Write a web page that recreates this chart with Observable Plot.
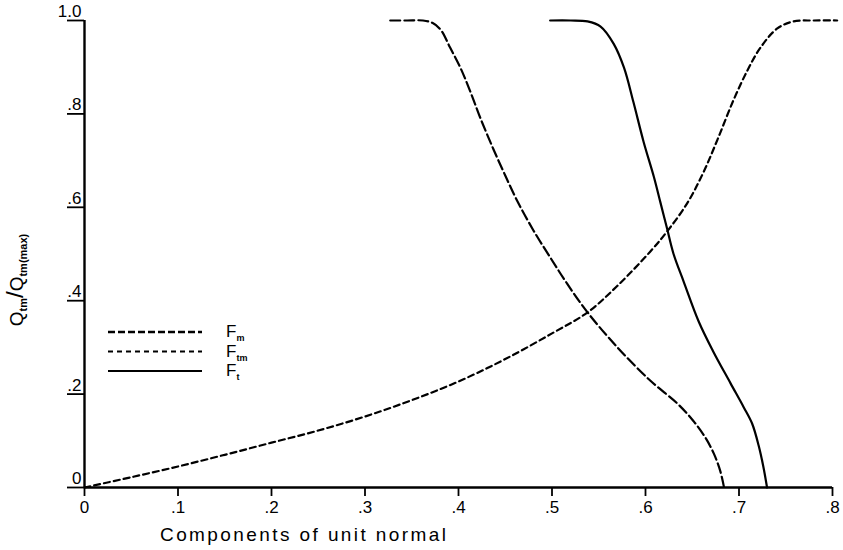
<!DOCTYPE html>
<html>
<head>
<meta charset="utf-8">
<script src="https://cdn.jsdelivr.net/npm/d3@7"></script>
<script src="https://cdn.jsdelivr.net/npm/@observablehq/plot@0.6"></script>
<style>
  html, body { margin: 0; padding: 0; background: #fff; }
  #chart { position: relative; width: 843px; height: 550px; }
</style>
</head>
<body>
<div id="chart"></div>
<script>
// ---- data ----
const xTicks = [0, 0.1, 0.2, 0.3, 0.4, 0.5, 0.6, 0.7, 0.8];
const xTickLabels = ["0", ".1", ".2", ".3", ".4", ".5", ".6", ".7", ".8"];
const yTicks = [0, 0.2, 0.4, 0.6, 0.8, 1.0];
const yTickLabels = ["0", ".2", ".4", ".6", ".8", "1.0"];

const seriesNames = ["Fm", "Ftm", "Ft"];

const fmX = [0.327, 0.345, 0.362, 0.372, 0.381, 0.391, 0.402, 0.413, 0.424, 0.437, 0.450, 0.463, 0.480, 0.498, 0.516, 0.538, 0.570, 0.605, 0.634, 0.651, 0.664, 0.673, 0.680, 0.684];
const fmY = [1.000, 1.000, 1.000, 0.995, 0.980, 0.942, 0.899, 0.846, 0.788, 0.726, 0.668, 0.613, 0.551, 0.493, 0.437, 0.375, 0.300, 0.229, 0.180, 0.143, 0.107, 0.073, 0.035, 0.000];

const ftmX = [0, 0.05, 0.10, 0.15, 0.20, 0.25, 0.30, 0.35, 0.40, 0.45, 0.50, 0.538, 0.570, 0.605, 0.623, 0.645, 0.662, 0.677, 0.694, 0.709, 0.723, 0.741, 0.758, 0.780, 0.805];
const ftmY = [0, 0.022, 0.045, 0.070, 0.096, 0.122, 0.152, 0.187, 0.227, 0.275, 0.330, 0.375, 0.432, 0.505, 0.548, 0.610, 0.675, 0.745, 0.829, 0.893, 0.942, 0.983, 0.998, 1.000, 1.000];

const ftX = [0.498, 0.520, 0.538, 0.552, 0.566, 0.577, 0.587, 0.598, 0.609, 0.616, 0.623, 0.630, 0.641, 0.657, 0.672, 0.691, 0.705, 0.714, 0.721, 0.726, 0.730];
const ftY = [1.000, 1.000, 0.998, 0.987, 0.950, 0.899, 0.826, 0.740, 0.665, 0.610, 0.555, 0.500, 0.440, 0.355, 0.293, 0.223, 0.172, 0.137, 0.090, 0.045, 0.000];

// ---- build tables ----
const toRows = (xs, ys) => xs.map((x, i) => ({x, y: ys[i]}));
const fm = toRows(fmX, fmY);
const ftm = toRows(ftmX, ftmY);
const ft = toRows(ftX, ftY);
const xTickRows = xTicks.map((v, i) => ({v, label: xTickLabels[i]}));
const yTickRows = yTicks.map((v, i) => ({v, label: yTickLabels[i]}));

const styles = {
  Fm: {dash: "10,4", legendDash: "7,3", legendWidth: 2.6},
  Ftm: {dash: "6,4", legendDash: "5,4", legendWidth: 2.2},
  Ft: {dash: null, legendDash: null, legendWidth: 2.2}
};

const font = "'Liberation Sans', Arial, sans-serif";

const chart = Plot.plot({
  width: 843,
  height: 550,
  marginLeft: 84,
  marginRight: 11,
  marginTop: 20,
  marginBottom: 63,
  style: {fontFamily: font, fontSize: "16px", background: "#fff", color: "#000", overflow: "visible"},
  x: {domain: [0, 0.8]},
  y: {domain: [0, 1]},
  marks: [
    Plot.axisX({ticks: xTicks, tickFormat: () => "", tickSize: 9, strokeWidth: 1.8, label: null}),
    Plot.text(xTickRows, {x: "v", y: 0, text: "label", dy: 20, fontSize: 17, textAnchor: "middle", fill: "#000"}),
    Plot.axisY({ticks: yTicks, tickFormat: () => "", tickSize: 17, strokeWidth: 1.8, label: null}),
    Plot.text(yTickRows, {x: 0, y: "v", text: "label", dx: -3, dy: -9, fontSize: 17, textAnchor: "end", fill: "#000"}),
    Plot.ruleY([0], {stroke: "#000", strokeWidth: 2.4}),
    Plot.ruleX([0], {stroke: "#000", strokeWidth: 2.4}),
    Plot.line(fm, {x: "x", y: "y", curve: "catmull-rom", stroke: "#000", strokeWidth: 2.2, strokeDasharray: styles.Fm.dash}),
    Plot.line(ftm, {x: "x", y: "y", curve: "catmull-rom", stroke: "#000", strokeWidth: 2.2, strokeDasharray: styles.Ftm.dash}),
    Plot.line(ft, {x: "x", y: "y", curve: "catmull-rom", stroke: "#000", strokeWidth: 2.2})
  ]
});

document.getElementById("chart").appendChild(chart);

const svg = d3.select(chart);

// x-axis title
svg.append("text")
  .attr("x", 160).attr("y", 541)
  .attr("text-anchor", "start")
  .attr("font-family", font).attr("font-size", 19)
  .attr("textLength", 286).attr("lengthAdjust", "spacing")
  .attr("fill", "#000")
  .text("Components of unit normal");

// y-axis title with subscripts
const yt = svg.append("text")
  .attr("transform", "translate(23,280) rotate(-90)")
  .attr("text-anchor", "middle")
  .attr("font-family", font).attr("font-size", 19).attr("fill", "#000");
yt.append("tspan").text("Q");
yt.append("tspan").attr("font-size", 11).attr("font-weight", "bold").attr("dy", 4).text("tm");
yt.append("tspan").attr("dy", -4).attr("font-size", 24).text("/");
yt.append("tspan").attr("font-size", 19).text("Q");
yt.append("tspan").attr("font-size", 11).attr("font-weight", "bold").attr("dy", 4).text("tm(max)");

// legend
const legendSubs = {Fm: "m", Ftm: "tm", Ft: "t"};
const lg = svg.append("g").attr("transform", "translate(108,332)");
seriesNames.forEach((name, i) => {
  const g = lg.append("g").attr("transform", `translate(0,${i * 19.5})`);
  g.append("line").attr("x1", 0).attr("x2", 94).attr("y1", 0).attr("y2", 0)
    .attr("stroke", "#000").attr("stroke-width", styles[name].legendWidth)
    .attr("stroke-dasharray", styles[name].legendDash);
  const t = g.append("text").attr("x", 118).attr("y", 5)
    .attr("text-anchor", "start")
    .attr("font-family", font).attr("font-size", 17).attr("fill", "#000");
  t.append("tspan").text("F");
  t.append("tspan").attr("font-size", 9).attr("font-weight", "bold").attr("dy", 4).text(legendSubs[name]);
});
</script>
</body>
</html>
